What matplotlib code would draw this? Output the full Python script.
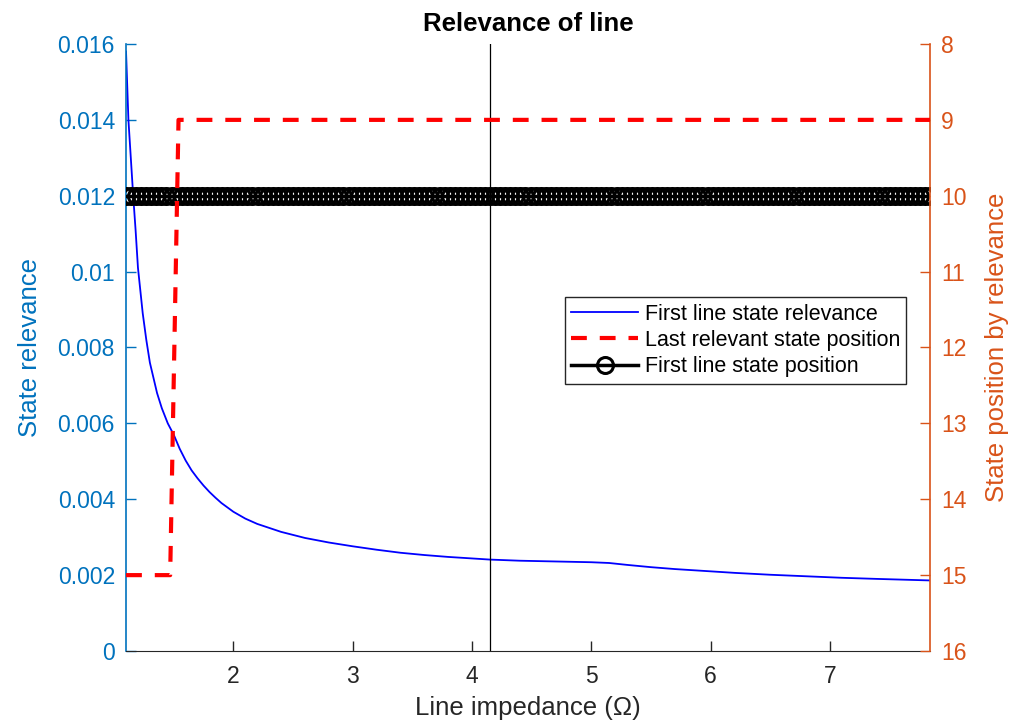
import numpy as np
import matplotlib.pyplot as plt

plt.rcParams['font.family'] = ['Liberation Sans', 'DejaVu Sans']

# First line state relevance (left axis)
impedance = [1.10, 1.11, 1.12, 1.14, 1.16, 1.18, 1.20, 1.22, 1.24, 1.27, 1.30,
             1.33, 1.36, 1.40, 1.45, 1.50, 1.55, 1.60, 1.65, 1.70, 1.75, 1.80,
             1.85, 1.90, 2.00, 2.10, 2.20, 2.40, 2.60, 2.80, 3.00, 3.20, 3.40,
             3.60, 3.80, 4.00, 4.15, 4.40, 4.70, 5.00, 5.15, 5.30, 5.50, 5.70,
             5.90, 6.20, 6.50, 6.80, 7.10, 7.40, 7.84]
relevance = [0.0158, 0.0149, 0.0140, 0.0130, 0.0120, 0.0111, 0.0101, 0.0095,
             0.0089, 0.0082, 0.0076, 0.0072, 0.0068, 0.0064, 0.0060, 0.0057,
             0.00533, 0.00502, 0.00476, 0.00455, 0.00436, 0.00419, 0.00404,
             0.00390, 0.00367, 0.00349, 0.00335, 0.00314, 0.00298, 0.00286,
             0.00276, 0.00267, 0.00259, 0.00253, 0.00248, 0.00244, 0.00241,
             0.00238, 0.00236, 0.00234, 0.00232, 0.00227, 0.00221, 0.00216,
             0.00212, 0.00206, 0.00201, 0.00197, 0.00193, 0.00190, 0.00186]

# Last relevant state position (right axis)
last_x = [1.10, 1.47, 1.54, 7.84]
last_pos = [15, 15, 9, 9]

# First line state position (right axis), sampled over the sweep
first_x = np.linspace(1.10, 7.84, 160)
first_pos = np.full(len(first_x), 10)

marked_impedance = 4.153

left_ticks = [0, 0.002, 0.004, 0.006, 0.008, 0.01, 0.012, 0.014, 0.016]
left_labels = ['0', '0.002', '0.004', '0.006', '0.008', '0.01', '0.012', '0.014', '0.016']
right_ticks = [8, 9, 10, 11, 12, 13, 14, 15, 16]
x_ticks = [2, 3, 4, 5, 6, 7]

blue_ax = '#0072BD'
orange_ax = '#D95319'
dark = '#262626'

fig = plt.figure(figsize=(10.23, 7.26), dpi=100)
ax1 = fig.add_axes([0.1232, 0.1033, 0.7859, 0.8361])
ax2 = ax1.twinx()

l1, = ax1.plot(impedance, relevance, color='b', lw=1.3,
               label='First line state relevance')
ax1.axvline(marked_impedance, color='k', lw=0.9)

l3, = ax2.plot(first_x, first_pos, color='k', lw=2.5, marker='o', ms=11.5,
               mfc='none', mec='k', mew=2.2, label='First line state position', zorder=2)
l2, = ax2.plot(last_x, last_pos, color='r', lw=3, dashes=(3.8, 3.1),
               label='Last relevant state position', zorder=3)

ax1.set_xlim(1.10, 7.84)
ax1.set_ylim(0, 0.016)
ax2.set_ylim(16, 8)

ax1.set_xticks(x_ticks)
ax1.set_yticks(left_ticks)
ax1.set_yticklabels(left_labels)
ax2.set_yticks(right_ticks)

for a in (ax1, ax2):
    a.spines['top'].set_visible(False)
    a.tick_params(direction='in', length=7, width=1, labelsize=16.5)
ax1.spines['left'].set_color(blue_ax)
ax1.spines['left'].set_linewidth(1.2)
ax2.spines['left'].set_visible(False)
ax1.spines['right'].set_visible(False)
ax2.spines['right'].set_color(orange_ax)
ax2.spines['right'].set_linewidth(1.2)
ax1.spines['bottom'].set_color(dark)
ax2.spines['bottom'].set_visible(False)
ax1.tick_params(axis='y', colors=blue_ax)
ax1.tick_params(axis='x', colors=dark, pad=10)
ax2.tick_params(axis='y', colors=orange_ax, pad=8)
ax1.tick_params(axis='y', pad=8)

ax1.set_xlabel('Line impedance (\u03a9)', fontsize=18.5, color=dark, va='center')
ax1.xaxis.set_label_coords(0.5, -0.094)
ax1.set_ylabel('State relevance', fontsize=18.5, color=blue_ax, va='center')
ax1.yaxis.set_label_coords(-0.119, 0.5)
ax2.set_ylabel('State position by relevance', fontsize=18.5, color=orange_ax,
               va='center', rotation=90)
ax2.yaxis.set_label_coords(1.083, 0.5)

ax1.set_title('Relevance of line', fontsize=18.5, fontweight='bold', pad=9)

leg = ax2.legend(handles=[l1, l2, l3], loc='upper left', bbox_to_anchor=(0.546, 0.583),
                 fontsize=15.5, frameon=True, fancybox=False, framealpha=1,
                 edgecolor=dark, handlelength=3.1, handletextpad=0.3,
                 borderpad=0.3, labelspacing=0.25, borderaxespad=0)
leg.get_frame().set_linewidth(1)

fig.savefig('out.png', dpi=100)
